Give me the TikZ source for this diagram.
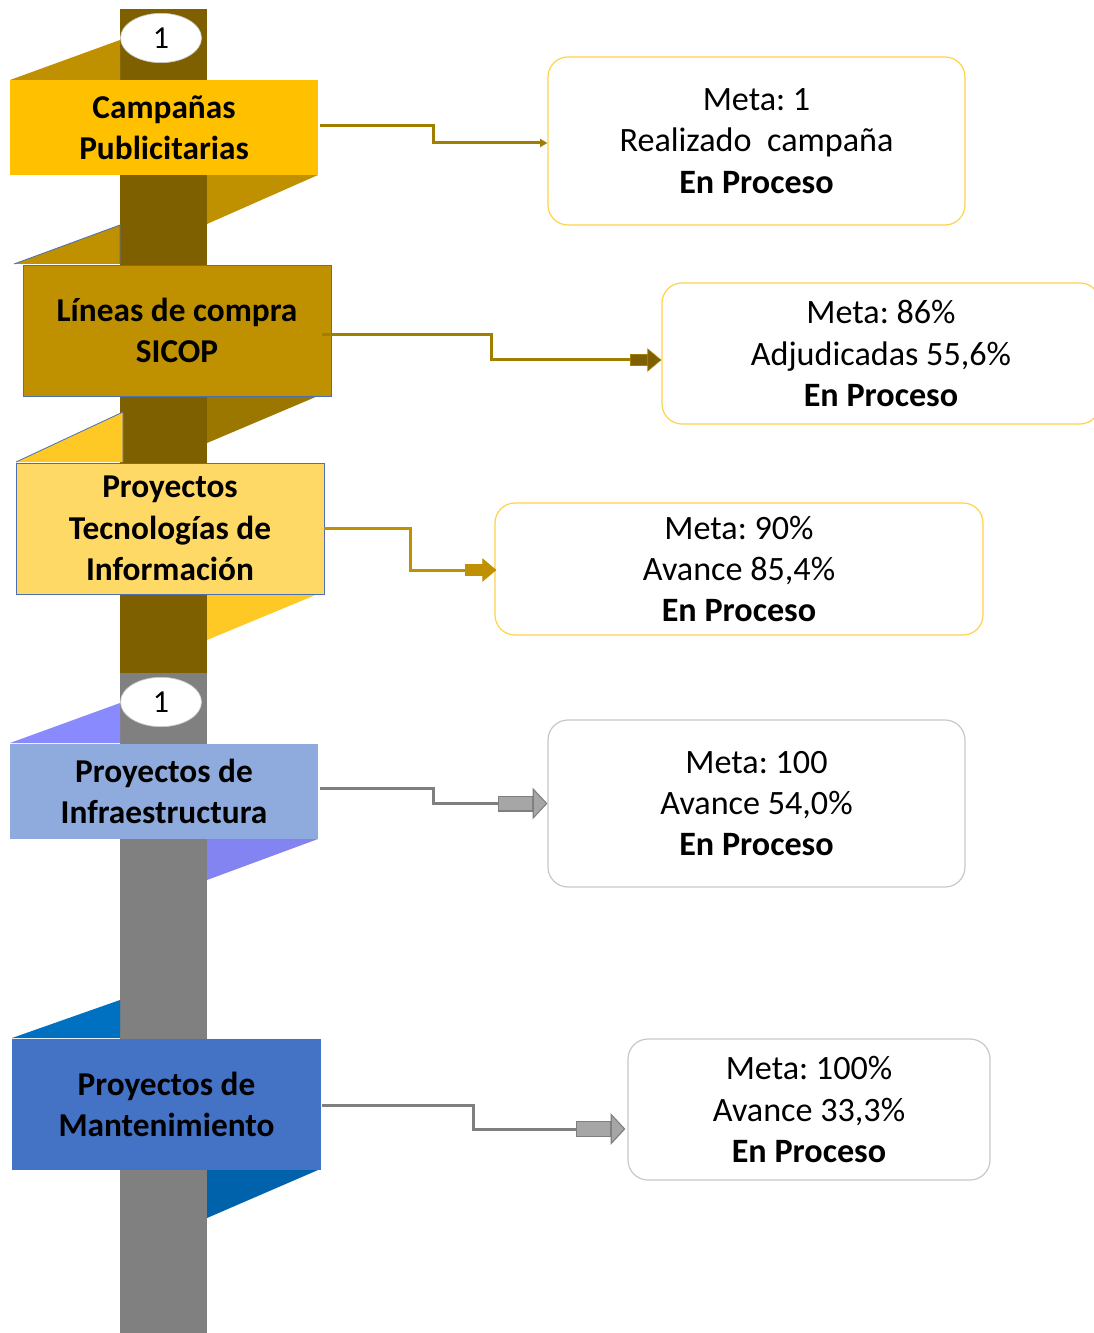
\documentclass[tikz,border=0pt]{standalone}
\usepackage{fontspec}
\setmainfont{Carlito}
\usetikzlibrary{shapes.geometric, arrows.meta, calc}
\frenchspacing

\definecolor{poleBrown}{HTML}{7F6000}
\definecolor{poleGray}{HTML}{808080}
\definecolor{goldA}{HTML}{FFC000}
\definecolor{goldB}{HTML}{BF9000}
\definecolor{goldC}{HTML}{9C7700}
\definecolor{goldD}{HTML}{FFD966}
\definecolor{goldE}{HTML}{FFC925}
\definecolor{blueA}{HTML}{8FAADC}
\definecolor{blueB}{HTML}{8A8AFF}
\definecolor{blueC}{HTML}{4472C4}
\definecolor{blueD}{HTML}{0070C0}
\definecolor{blueE}{HTML}{0062AA}
\definecolor{edgeBlue}{HTML}{4A6FB5}
\definecolor{boxGold}{HTML}{FFD347}
\definecolor{boxGray}{HTML}{C8C8C8}
\definecolor{linkGold}{HTML}{A07E00}
\definecolor{linkGray}{HTML}{7F7F7F}
\definecolor{tipGray}{HTML}{A6A6A6}

\tikzset{
    txt/.style={font=\fontsize{25.6}{31}\selectfont, align=center, text=black},
    banner/.style={txt, font=\fontsize{25}{31}\selectfont\bfseries, inner sep=0pt, minimum width=231pt},
    infobox/.style={txt, draw, line width=0.9pt, rounded corners=15pt, inner sep=0pt},
    numtag/.style={ellipse, fill=white, draw=boxGray, line width=0.5pt, inner sep=0pt,
        minimum width=60.75pt, minimum height=37pt, font=\fontsize{24}{31}\selectfont},
    zigzag/.style={to path={-| ($(\tikztostart)!0.5!(\tikztotarget)$) |- (\tikztotarget)}},
    link/.style={line width=2.25pt, zigzag},
    fatgold/.style={-{Rectangle[length=12.75pt, width=8.5pt, sep=0pt, line width=0.6pt, fill=#1]
        Triangle[length=10.5pt, width=17.5pt, line width=0.6pt, fill=#1]}},
    fatgray/.style={-{Rectangle[length=26pt, width=12pt, sep=0pt, line width=0.8pt, fill=tipGray]
        Triangle[length=11pt, width=23.5pt, line width=0.8pt, fill=tipGray]}}
}

\begin{document}
\begin{tikzpicture}[x=0.75pt, y=-0.75pt]
    \clip (0, 0) rectangle (1094, 1333);
    \fill[white] (0, 0) rectangle (1094, 1333);

    % pole
    \fill[poleBrown] (120, 9) rectangle (207, 673);
    \fill[poleGray] (120, 673) rectangle (207, 1333);

    % flaps
    \fill[goldB] (10, 80) -- (120, 40) -- (120, 80) -- cycle;
    \fill[goldB] (207, 175) -- (318, 175) -- (207, 224) -- cycle;
    \filldraw[fill=goldB, draw=edgeBlue, line width=0.6pt] (14, 264) -- (120, 225) -- (120, 264);
    \fill[goldC] (207, 396) -- (318, 396) -- (207, 443) -- cycle;
    \filldraw[fill=goldE, draw=edgeBlue, line width=0.6pt] (16, 462) -- (123, 412) -- (123, 462);
    \fill[goldE] (207, 594) -- (318, 594) -- (207, 640) -- cycle;
    \fill[blueB] (10, 743) -- (120, 703) -- (120, 743) -- cycle;
    \fill[blueB!95!black] (207, 839) -- (318, 839) -- (207, 880) -- cycle;
    \fill[blueD] (12, 1038) -- (120, 1000) -- (120, 1038) -- cycle;
    \fill[blueE] (207, 1170) -- (318, 1170) -- (207, 1218) -- cycle;

    % banners
    \node[banner, fill=goldA, minimum height=71.25pt] (ban1) at (164, 127.5) {Campañas\\Publicitarias};
    \node[banner, fill=goldB, draw=edgeBlue, line width=0.6pt, minimum height=98.25pt] (ban2) at (177, 330.5) {Líneas de compra\\SICOP};
    \node[banner, fill=goldD, draw=edgeBlue, line width=0.6pt, minimum height=98.25pt] (ban3) at (170, 528.5) {Proyectos\\Tecnologías de\\Información};
    \node[banner, fill=blueA, minimum height=71.25pt] (ban4) at (164, 791.5) {Proyectos de\\Infraestructura};
    \node[banner, fill=blueC, minimum width=231.75pt, minimum height=98.25pt] (ban5) at (166.5, 1104.5) {Proyectos de\\Mantenimiento};

    \node[numtag] (num1) at (161, 38) {1};
    \node[numtag] (num2) at (161, 702) {1};

    % result boxes
    \node[infobox, draw=boxGold, minimum width=312.75pt, minimum height=126pt] (box1) at (756.5, 141) {Meta: 1\\Realizado\ \ campaña\\\textbf{En Proceso}};
    \node[infobox, draw=boxGold, minimum width=328.5pt, minimum height=105.75pt] (box2) at (881, 353.5) {Meta: 86\%\\Adjudicadas 55,6\%\\\textbf{En Proceso}};
    \node[infobox, draw=boxGold, minimum width=366pt, minimum height=99pt] (box3) at (739, 569) {Meta: 90\%\\Avance 85,4\%\\\textbf{En Proceso}};
    \node[infobox, draw=boxGray, minimum width=312.75pt, minimum height=125.25pt] (box4) at (756.5, 803.5) {Meta: 100\\Avance 54,0\%\\\textbf{En Proceso}};
    \node[infobox, draw=boxGray, minimum width=271.5pt, minimum height=105.75pt] (box5) at (809, 1109.5) {Meta: 100\%\\Avance 33,3\%\\\textbf{En Proceso}};

    % links
    \draw[link, linkGold, -{Triangle[length=5.5pt, width=6pt]}] ($(ban1.east)+(2, -1.5)$) to ($(box1.west)+(0, 2)$);
    \draw[link, linkGold, fatgold=poleBrown] ($(ban2.east)+(-9, 4.5)$) to ($(box2.west)+(0, 6.5)$);
    \draw[link, goldB, fatgold=goldB] (ban3.east) to ($(box3.west)+(2, 1)$);
    \draw[link, linkGray, fatgray] ($(ban4.east)+(2, -3.5)$) to (box4.west);
    \draw[link, linkGray, fatgray] ($(ban5.east)+(1, 0.5)$) to ($(box5.west)+(-2, 19.5)$);
\end{tikzpicture}
\end{document}
